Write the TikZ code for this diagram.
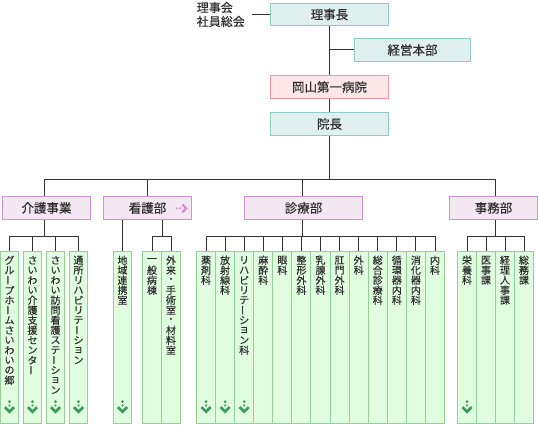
\documentclass[tikz,border=0pt]{standalone}
\usepackage{fontspec}
\usepackage{graphicx}
\setmainfont{Noto Sans CJK JP}[FakeBold=0.3]
\definecolor{tealF}{HTML}{E0F0EF}
\definecolor{tealD}{HTML}{8ECCC8}
\definecolor{pinkF}{HTML}{FDE6E7}
\definecolor{pinkD}{HTML}{F09C9E}
\definecolor{purF}{HTML}{F3E7F2}
\definecolor{purD}{HTML}{D391D1}
\definecolor{grnF}{HTML}{E0FDE0}
\definecolor{grnD}{HTML}{92D296}
\definecolor{iconG}{HTML}{3A9B5C}
\definecolor{txt}{HTML}{2E2E2E}
\definecolor{ln}{HTML}{333333}
\def\vt#1{\vtA#1\relax}
\def\vtA#1{\ifx\relax#1\else\vtC{#1}\expandafter\vtA\fi}
\def\vtC#1{\hbox to 14pt{\hss\vbox to 10pt{\vss\hbox{\ifx ー#1\rotatebox[origin=c]{90}{ー}\else #1\fi}\vss}\hss}}
\tikzset{
  boxbase/.style={draw, line width=1pt, minimum width=118pt, minimum height=23pt, inner sep=0pt, font=\fontsize{12.5}{14}\selectfont, text=txt},
  topbox/.style={boxbase, draw=tealD, fill=tealF},
  hospbox/.style={boxbase, draw=pinkD, fill=pinkF},
  deptbox/.style={boxbase, draw=purD, fill=purF, minimum width=88pt},
  leafbox/.style={draw=grnD, fill=grnF, line width=1pt, minimum width=#1, minimum height=172pt, inner sep=0pt},
  leafbox/.default=18pt,
  vtxt/.style={anchor=north, font=\fontsize{10}{10}\selectfont, inner sep=0pt, text=txt},
  wire/.style={draw=ln, line width=1pt},
}
\newcommand\leafat[4][18pt]{%
  \node[leafbox=#1] (#2) at (#3,337.5) {};
  \node[vtxt] at ([yshift=-4pt]#2.north) {\vbox{\offinterlineskip\expandafter\vt\expandafter{#4}}};}
\newcommand\dicon[1]{%
  \fill[iconG] ([yshift=22.3pt]#1.south) circle (1.5pt);
  \fill[iconG] ([yshift=18.6pt]#1.south) circle (1.15pt);
  \draw[iconG, line width=2.6pt] ([xshift=-4.6pt,yshift=16.9pt]#1.south) -- ([yshift=12.3pt]#1.south) -- ([xshift=4.6pt,yshift=16.9pt]#1.south);}
\begin{document}
\begin{tikzpicture}[x=1pt,y=-1pt]
\useasboundingbox (0,0) rectangle (539,425);
\fill[white] (0,0) rectangle (539,425);
% top
\node[topbox] (riji) at (329.5,14.5) [minimum height=22pt] {理事長};
\node[anchor=east, align=left, inner xsep=7pt, inner ysep=0pt, font=\fontsize{12}{14}\selectfont, text=txt] (soukai) at (252,14.5) {理事会\\社員総会};
\node[topbox, minimum width=116pt] (keiei) at (412.5,50) {経営本部};
\node[hospbox] (okayama) at (329.5,87) {岡山第一病院};
\node[topbox] (incho) at (329.5,124) {院長};
\draw[wire] (soukai.east |- riji.west) -- (riji.west);
\draw[wire] (riji.south) -- (okayama.north);
\draw[wire] (riji.south |- keiei.west) -- (keiei.west);
\draw[wire] (okayama.south) -- (incho.north);
\coordinate (bus) at (329.5,179.5);
\draw[wire] (incho.south) -- (bus);
% departments
\node[deptbox] (kaigo) at (46.5,208) {介護事業};
\node[deptbox] (kango) at (147.5,208) {看護部\hspace{11pt}};
\node[deptbox, minimum width=118pt] (shinryo) at (303.5,208) {診療部};
\node[deptbox] (jimu) at (493.5,208) {事務部};
\fill[purD] (177,208.3) circle (1.2pt);
\fill[purD] (180.2,208.3) circle (1.2pt);
\draw[purD, line width=2.2pt] (182.2,204.3) -- (186.2,208.3) -- (182.2,212.3);
\draw[wire] ([xshift=-2.5pt]kaigo.north) |- (bus);
\draw[wire] ([xshift=-0.5pt]kango.north) |- (bus);
\draw[wire] ([xshift=-1.5pt]shinryo.north) |- (bus);
\draw[wire] ([xshift=1.5pt]jimu.north) |- (bus);
% kaigo leaves
\leafat{k1}{9.5}{グループホームさいわいの郷}
\leafat{k2}{32.5}{さいわい介護支援センター}
\leafat{k3}{55.5}{さいわい訪問看護ステーション}
\leafat{k4}{78.5}{通所リハビリテーション}
\draw[wire] ([xshift=-2.5pt]kaigo.south) -- ++(0,17) coordinate (kb);
\foreach \n in {k1,k2,k3,k4} {\draw[wire] (kb) -| (\n.north);}
% kango leaves
\leafat{n1}{122.5}{地域連携室}
\leafat[19pt]{n2}{152}{一般病棟}
\leafat[19pt]{n3}{171}{外来・手術室・材料室}
\draw[wire] (n1.north |- kango.south) -- (n1.north);
\draw[wire] (n2.north east |- kango.south) -- ++(0,17) coordinate (nb);
\draw[wire] (nb) -| (n2.north);
\draw[wire] (nb) -| (n3.north);
% shinryo leaves
\foreach \t [count=\i from 0] in {薬剤科,放射線科,リハビリテーション科,麻酔科,眼科,整形外科,乳腺外科,肛門外科,外科,総合診療科,循環器内科,消化器内科,内科} {
  \pgfmathsetmacro\cx{196.5+19.08*(\i+0.5)}
  \leafat[19.08pt]{m\i}{\cx}{\t}
}
\draw[wire] ([xshift=-1.5pt]shinryo.south) -- ++(0,17) coordinate (mb);
\foreach \i in {0,...,12} {\draw[wire] (mb) -| (m\i.north);}
% jimu leaves
\leafat[19pt]{a1}{467}{栄養科}
\leafat[19pt]{a2}{486}{医事課}
\leafat[19pt]{a3}{505}{経理人事課}
\leafat[19pt]{a4}{524}{総務課}
\draw[wire] ([xshift=1.5pt]jimu.south) -- ++(0,17) coordinate (ab);
\foreach \n in {a1,a2,a3,a4} {\draw[wire] (ab) -| (\n.north);}
% icons
\foreach \n in {k1,k2,k3,k4,n1,m0,m1,m2,a1} {\dicon{\n}}
\end{tikzpicture}
\end{document}
